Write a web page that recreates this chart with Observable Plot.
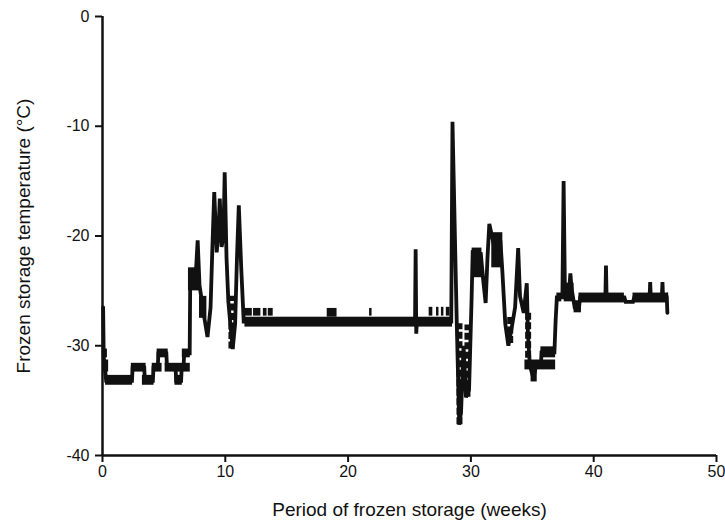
<!DOCTYPE html>
<html><head><meta charset="utf-8">
<script src="https://cdn.jsdelivr.net/npm/d3@7"></script>
<script src="https://cdn.jsdelivr.net/npm/@observablehq/plot@0.6"></script>
<style>body{margin:0;background:#fff}</style>
</head><body><div id="chart"></div>
<script>
const xLabel = "Period of frozen storage (weeks)";
const yLabel = "Frozen storage temperature (°C)";
const xTicks = [0, 10, 20, 30, 40, 50];
const yTicks = [0, -10, -20, -30, -40];

// main recorder trace (week, °C)
const traceWeeks = [0.05,0.1,0.3,2.4,2.45,3.4,3.45,4.1,4.15,4.5,4.55,5.2,5.25,5.95,6.0,6.4,6.45,6.6,6.65,7.1,
  7.15,7.4,7.6,7.75,7.9,8.1,8.3,8.55,8.8,8.95,9.1,9.3,9.45,9.55,9.7,9.85,9.95,10.1,10.25,10.45,10.6,10.8,10.95,11.1,11.3,11.5,
  25.45,25.5,25.55,25.6,28.4,28.5,28.85,29.05,29.2,29.4,29.6,29.85,30.05,30.15,30.5,30.8,31.0,31.2,31.35,31.5,31.75,32.0,32.2,32.4,32.55,32.8,33.05,33.3,33.6,33.85,34.0,34.3,34.55,34.65,34.8,35.1,35.3,35.7,35.75,36.8,36.9,37.0,37.45,37.55,37.65,38.0,38.1,38.2,38.45,38.8,38.9,
  40.95,41.0,41.05,42.5,42.6,43.2,43.3,44.55,44.6,44.65,45.55,45.6,45.65,45.95,46.0];
const traceTemps = [-26.5,-31,-33.2,-33.2,-32,-32,-33.2,-33.2,-32,-32,-30.7,-30.7,-32,-32,-33.2,-33.2,-32,-32,-30.7,-30.7,
  -23,-24,-23.4,-20.4,-24.5,-26,-27.5,-29.2,-26.5,-21,-16,-21.5,-19.5,-16.6,-21,-20,-14.2,-22,-26,-28.5,-30.3,-28,-22,-17.2,-23,-27.8,
  -27.8,-21.2,-28.9,-27.8,-27.8,-9.6,-28,-37.2,-36,-30,-34.7,-34,-26,-21.3,-22.5,-21.5,-24,-26.1,-22,-18.9,-20.2,-21.5,-22.5,-20.4,-23,-28,-30,-28.5,-26.5,-21.1,-25.5,-27,-24.3,-29,-31.8,-33,-31.8,-31.8,-30.6,-30.6,-27.7,-25.6,-25.6,-15,-24.5,-25,-23.4,-24.8,-26.5,-26.5,-25.6,
  -25.6,-22.7,-25.6,-25.6,-26,-26,-25.6,-25.6,-24.2,-25.6,-25.6,-24.2,-25.6,-25.6,-27];

// recorded blocks: week start, week end, low °C, high °C
const blockStart = [0.25,2.35,3.25,4.05,4.45,5.1,5.9,6.35,6.5,0.05,0.1, 7.0,7.9, 11.6, 11.6,12.3,13.1,13.5,18.3,21.75,26.6,27.2,27.6,28.0, 30.1,31.7,34.4,34.9,35.7,37.0,37.6,38.4,38.8,43.2,46.0];
const blockEnd   = [2.45,3.55,4.2,4.85,5.35,6.35,6.5,7.15,7.15,0.4,0.5, 7.95,8.5, 28.5, 12.2,12.9,13.4,13.9,19.1,21.95,26.9,27.4,27.8,28.3, 30.9,32.6,36.9,35.4,36.9,37.4,38.4,39.0,42.5,46.1,46.1];
const blockLow   = [-33.6,-32.4,-33.6,-32.4,-31.1,-32.4,-33.6,-32.4,-31.1,-31.1,-32.4, -25,-27.5, -28.3, -27.3,-27.3,-27.3,-27.3,-27.4,-27.3,-27.3,-27.3,-27.3,-27.3, -23.8,-22.9,-32.2,-33.3,-31.1,-26,-26,-27,-26.1,-26.1,-27];
const blockHigh  = [-32.7,-31.6,-32.7,-31.6,-30.3,-31.6,-32.7,-31.6,-30.3,-30.3,-31.3, -22.9,-25.5, -27.4, -26.6,-26.6,-26.6,-26.6,-26.6,-26.6,-26.5,-26.5,-26.5,-26.5, -21.1,-19.7,-31.3,-32.2,-30.1,-25.2,-24.3,-25.9,-25.2,-25.2,-25.2];

// dashed recorder columns: week, low °C, high °C
const colWeek = [10.5, 29.07, 29.72, 33.2, 34.66];
const colLow  = [-30.3, -37.2, -34.7, -29.8, -32];
const colHigh = [-25.5, -28, -28.1, -27.4, -27];

const trace = traceWeeks.map((w, i) => ({week: w, temp: traceTemps[i]}));
const blocks = blockStart.map((s, i) => ({x1: s, x2: blockEnd[i], y1: blockLow[i], y2: blockHigh[i]}));
const cols = colWeek.map((w, i) => ({week: w, lo: colLow[i], hi: colHigh[i]}));

const ink = "#111";
const chart = Plot.plot({
  width: 725, height: 520,
  marginLeft: 102, marginRight: 9, marginTop: 16, marginBottom: 65,
  style: {fontFamily: "'Liberation Sans', Arial, sans-serif", fontSize: "16px", color: ink, background: "#fff"},
  x: {domain: [0, 50], ticks: xTicks, tickSize: 7, tickPadding: 3, label: xLabel, labelAnchor: "center", labelArrow: "none", labelOffset: 60},
  y: {domain: [-40, 0], ticks: yTicks, tickSize: 7, tickPadding: 6, tickFormat: d => String(d), label: yLabel, labelAnchor: "center", labelArrow: "none", labelOffset: 86},
  marks: [
    Plot.rect(blocks, {x1: "x1", x2: "x2", y1: "y1", y2: "y2", fill: ink}),
    Plot.ruleX(cols, {x: "week", y1: "lo", y2: "hi", stroke: ink, strokeWidth: 6, strokeDasharray: "7,2.5"}),
    Plot.line(trace, {x: "week", y: "temp", stroke: ink, strokeWidth: 3.8, strokeLinejoin: "miter", strokeMiterlimit: 3}),
    Plot.ruleX([0], {stroke: ink, strokeWidth: 2.5}),
    Plot.ruleY([-40], {stroke: ink, strokeWidth: 2.5})
  ]
});
document.getElementById("chart").appendChild(chart);
d3.select(chart).selectAll("g[aria-label='x-axis tick'], g[aria-label='y-axis tick']").attr("stroke-width", 2);
d3.select(chart).selectAll("g[aria-label='x-axis label'], g[aria-label='y-axis label']").attr("font-size", "19px");
</script></body></html>
